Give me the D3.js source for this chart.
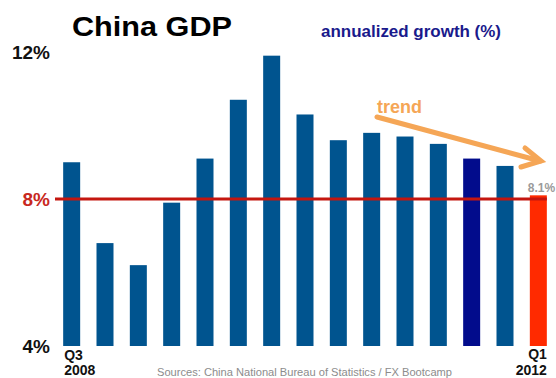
<!DOCTYPE html>
<html>
<head>
<meta charset="utf-8">
<script src="https://cdn.jsdelivr.net/npm/d3@7"></script>
<style>
  body { margin: 0; background: #fff; }
  svg { display: block; font-family: Arial, "Liberation Sans", sans-serif; }
</style>
</head>
<body>
<svg id="chart" width="556" height="378"></svg>
<script>
// quarters Q3 2008 .. Q1 2012
const quarters = ["2008Q3","2008Q4","2009Q1","2009Q2","2009Q3","2009Q4",
                  "2010Q1","2010Q2","2010Q3","2010Q4","2011Q1","2011Q2",
                  "2011Q3","2011Q4","2012Q1"];
const growth = [9.0, 6.8, 6.2, 7.9, 9.1, 10.7, 11.9, 10.3, 9.6, 9.8, 9.7, 9.5, 9.1, 8.9, 8.1];
const yTicks = [4, 8, 12];
const threshold = 8;

const svg = d3.select("#chart");

const x = d3.scaleBand()
    .domain(quarters)
    .range([55, 555])
    .paddingInner(0.49)
    .paddingOuter(0.245);

const y = d3.scaleLinear()
    .domain([4, 12])
    .range([346, 52]);

const barColor = (d, i) => i === quarters.length - 1 ? "#ff2a00"
                         : i === quarters.length - 3 ? "#020c8c" : "#00548f";

// bars
svg.append("g")
  .selectAll("rect")
  .data(growth)
  .join("rect")
    .attr("x", (d, i) => x(quarters[i]))
    .attr("y", d => y(d))
    .attr("width", x.bandwidth())
    .attr("height", d => y(4) - y(d))
    .attr("fill", barColor);

// 8% reference line
svg.append("line")
    .attr("x1", 55)
    .attr("x2", x(quarters[quarters.length - 1]) + x.bandwidth())
    .attr("y1", y(threshold))
    .attr("y2", y(threshold))
    .attr("stroke", "#c4160f")
    .attr("stroke-width", 3);

// y labels
svg.append("g")
  .selectAll("text")
  .data(yTicks)
  .join("text")
    .attr("x", 50)
    .attr("y", d => y(d) + 7)
    .attr("text-anchor", "end")
    .attr("font-size", 19)
    .attr("font-weight", "bold")
    .attr("fill", d => d === threshold ? "#c8281e" : "#111")
    .text(d => d + "%");

// x end labels
const first = quarters[0], last = quarters[quarters.length - 1];
const xl = svg.append("g").attr("font-size", 14).attr("font-weight", "bold").attr("fill", "#111");
xl.append("text").attr("x", x(first) + 1).attr("y", 360).text("Q" + first.slice(5));
xl.append("text").attr("x", x(first) + 1).attr("y", 375).text(first.slice(0, 4));
xl.append("text").attr("x", x(last) + x.bandwidth()).attr("y", 359)
    .attr("text-anchor", "end").text("Q" + last.slice(5));
xl.append("text").attr("x", x(last) + x.bandwidth()).attr("y", 375)
    .attr("text-anchor", "end").text(last.slice(0, 4));

// last value label
svg.append("text")
    .attr("x", x(last) - 2)
    .attr("y", y(growth[growth.length - 1]) - 3)
    .attr("font-size", 12)
    .attr("font-weight", "bold")
    .attr("fill", "#9a9a9a")
    .text(growth[growth.length - 1].toFixed(1) + "%");

// titles
svg.append("text")
    .attr("x", 72).attr("y", 36)
    .attr("font-size", 28).attr("font-weight", "bold")
    .attr("textLength", 160).attr("lengthAdjust", "spacingAndGlyphs")
    .attr("fill", "#000")
    .text("China GDP");

svg.append("text")
    .attr("x", 321).attr("y", 37)
    .attr("font-size", 16).attr("font-weight", "bold")
    .attr("textLength", 180).attr("lengthAdjust", "spacingAndGlyphs")
    .attr("fill", "#1a1a8c")
    .text("annualized growth (%)");

// trend annotation
const orange = "#f5a656";
svg.append("text")
    .attr("x", 377).attr("y", 113)
    .attr("font-size", 18).attr("font-weight", "bold")
    .attr("fill", orange)
    .text("trend");

svg.append("path")
    .attr("d", d3.line()([[377, 117], [540, 161]]))
    .attr("stroke", orange).attr("stroke-width", 5)
    .attr("stroke-linecap", "round").attr("fill", "none");
svg.append("path")
    .attr("d", d3.line()([[525, 148], [541, 161], [521, 167]]))
    .attr("stroke", orange).attr("stroke-width", 5)
    .attr("stroke-linecap", "round").attr("stroke-linejoin", "miter")
    .attr("fill", "none");

// source
svg.append("text")
    .attr("x", 157).attr("y", 376)
    .attr("font-size", 11)
    .attr("textLength", 295).attr("lengthAdjust", "spacingAndGlyphs")
    .attr("fill", "#8c8c8c")
    .text("Sources: China National Bureau of Statistics / FX Bootcamp");
</script>
</body>
</html>
